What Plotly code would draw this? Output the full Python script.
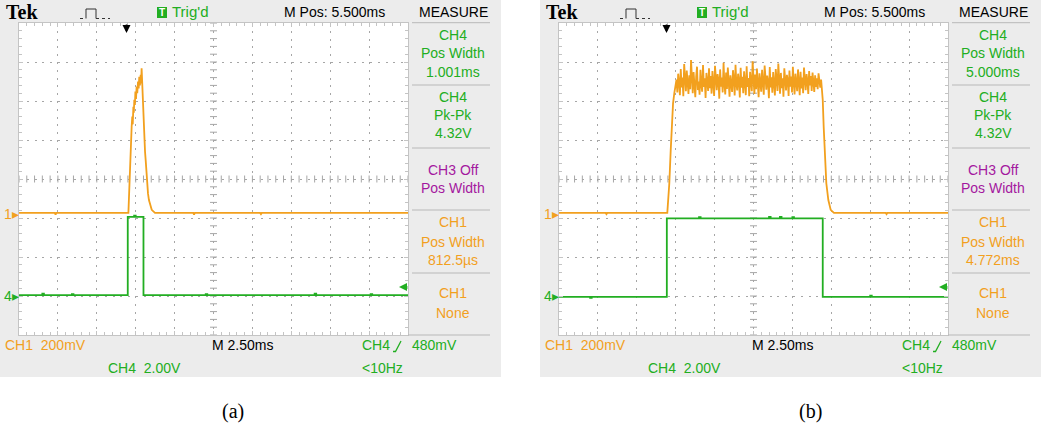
import numpy as np
import plotly.graph_objects as go

W, H = 1041, 426

# ---------------- data (time in ms, amplitude in screen divisions) ----------------
ms_per_div = 2.5
x_range = [0, 25]
y_range = [0, 8]

# panel (a): CH1 (orange) and CH4 (green)
t_ch1_a = [0, 2.3, 2.35, 2.4,
           7.03, 7.09, 7.13, 7.18, 7.21, 7.24, 7.28, 7.31, 7.35, 7.38, 7.41, 7.45, 7.48, 7.52,
           7.56, 7.60, 7.65, 7.69, 7.73, 7.77, 7.82, 7.85, 7.88, 7.91, 7.95, 7.99, 8.05, 8.10,
           8.14, 8.20, 8.29, 8.35, 8.44, 8.53, 8.74,
           11.2, 11.25, 11.3, 15.5, 15.55, 15.6, 25]
v_ch1_a = [3.13, 3.13, 3.09, 3.13,
           3.13, 3.89, 4.30, 4.74, 4.95, 5.34, 5.60, 5.40, 5.85, 5.70, 6.03, 5.90, 6.24, 6.05,
           6.37, 6.20, 6.50, 6.32, 6.62, 6.40, 6.67, 6.45, 6.84, 6.50, 6.37, 5.77, 5.17, 4.70,
           4.49, 4.06, 3.63, 3.46, 3.29, 3.21, 3.13,
           3.13, 3.09, 3.13, 3.13, 3.10, 3.13, 3.13]

t_ch4_a = [0, 1.5, 1.6, 3.4, 3.5, 6.99, 7.4, 7.5, 8.0, 12.0, 12.1, 19.0, 19.1, 22.6, 22.7, 25]
v_ch4_a = [1.02, 1.06, 1.02, 1.05, 1.02, 3.03, 3.06, 3.03, 1.02, 1.05, 1.02, 1.06, 1.02, 1.05, 1.02, 1.02]

# panel (b)
t_ch1_b_rise = [0, 3.0, 3.05, 3.1, 6.96, 7.09, 7.18, 7.24, 7.33, 7.41, 7.50]
v_ch1_b_rise = [3.13, 3.13, 3.10, 3.13, 3.13, 3.89, 4.74, 5.34, 5.94, 6.20, 6.45]
v_ch1_b_top = [
    6.55, 6.22, 6.70, 6.48, 6.15, 6.82, 6.35, 6.60, 6.12, 6.95, 6.40, 6.25, 6.78, 6.52, 6.18, 6.66, 6.30, 7.05, 6.45, 6.20,
    6.74, 6.38, 6.10, 6.62, 6.88, 6.28, 6.50, 6.16, 6.80, 6.42, 6.24, 6.92, 6.36, 6.58, 6.08, 6.72, 6.46, 6.26, 6.84, 6.33,
    6.64, 6.19, 6.77, 6.50, 6.13, 6.90, 6.40, 6.28, 6.69, 6.55, 6.06, 6.81, 6.37, 6.60, 6.22, 6.98, 6.44, 6.17, 6.73, 6.31,
    6.86, 6.48, 6.11, 6.66, 6.39, 6.23, 6.79, 6.57, 6.14, 6.93, 6.43, 6.27, 6.70, 6.51, 6.09, 6.85, 6.34, 6.62, 6.20, 6.76,
    6.47, 6.15, 6.89, 6.36, 6.59, 6.12, 6.75, 6.41, 6.25, 7.02, 6.53, 6.18, 6.68, 6.30, 6.83, 6.45, 6.10, 6.71, 6.38, 6.24,
    6.80, 6.56, 6.16, 6.91, 6.42, 6.29, 6.65, 6.49, 6.07, 6.87, 6.35, 6.61, 6.21, 6.74, 6.46, 6.14, 6.82, 6.39, 6.26, 6.96,
    6.50, 6.19, 6.72, 6.33, 6.58, 6.11, 6.84, 6.44, 6.27, 6.67, 6.54, 6.13, 6.78, 6.37, 6.63, 6.22, 6.88, 6.48, 6.17, 6.70,
    6.41, 6.25, 6.81, 6.56, 6.15, 6.75, 6.32, 6.60, 6.20, 6.86, 6.45, 6.28, 6.69, 6.52, 6.18, 6.77, 6.40, 6.64, 6.26, 6.73,
    6.48, 6.23, 6.66, 6.36, 6.58, 6.30, 6.71, 6.44, 6.34, 6.55]
sample_dt_b = 0.055
t_ch1_b_top = [7.55 + i * sample_dt_b for i in range(len(v_ch1_b_top))]
t_ch1_b_fall = [16.88, 16.95, 17.01, 17.10, 17.18, 17.31, 17.46, 17.67, 21.0, 21.05, 21.1, 25]
v_ch1_b_fall = [6.37, 6.03, 5.34, 4.57, 3.89, 3.46, 3.21, 3.13, 3.13, 3.10, 3.13, 3.13]
t_ch1_b = t_ch1_b_rise + t_ch1_b_top + t_ch1_b_fall
v_ch1_b = v_ch1_b_rise + v_ch1_b_top + v_ch1_b_fall

t_ch4_b = [0, 2.0, 2.1, 6.93, 9.0, 9.1, 13.5, 13.6, 14.2, 14.3, 15.0, 15.1, 16.95, 20.0, 20.1, 25]
v_ch4_b = [0.98, 0.95, 0.98, 2.99, 3.02, 2.99, 3.03, 2.99, 3.03, 2.99, 3.02, 2.99, 0.98, 1.01, 0.98, 0.98]

# on-screen readouts
header = {"tek": "Tek", "trig": "Trig'd", "mpos": "M Pos: 5.500ms", "measure": "MEASURE"}
measure_a = ["1.001ms", "4.32V", "812.5µs"]
measure_b = ["5.000ms", "4.32V", "4.772ms"]
bottom_labels = {"ch1": "CH1  200mV", "time": "M 2.50ms", "ch4": "CH4  2.00V", "trig": "480mV", "freq": "&lt;10Hz"}
captions = ["(a)", "(b)"]

# ---------------- styling ----------------
ORANGE = "#F2A01E"
GREEN = "#22AE22"
PURPLE = "#A4189F"
PANEL = "#ECECEC"
GRIDC = "#A6A6A6"
EDGEC = "#C4C4C4"
SEP = "#B8B8B8"
FONT = "Liberation Sans, Arial, sans-serif"


def px(x):
    return x / W


def py(y):
    return 1 - y / H


shapes, annotations = [], []


def text(x, y, s, color="black", size=14, anchor="left", family=FONT):
    annotations.append(dict(x=px(x), y=py(y), xref="paper", yref="paper", text=s, showarrow=False,
                            xanchor=anchor, yanchor="middle", font=dict(color=color, size=size, family=family)))


def rect(x0, y0, x1, y1, fill):
    shapes.append(dict(type="rect", xref="paper", yref="paper", x0=px(x0), x1=px(x1), y0=py(y1), y1=py(y0),
                       fillcolor=fill, line=dict(width=0), layer="below"))


def hline(x0, x1, y, color=SEP, width=1, dash="solid"):
    shapes.append(dict(type="line", xref="paper", yref="paper", x0=px(x0), x1=px(x1), y0=py(y), y1=py(y),
                       line=dict(color=color, width=width, dash=dash)))


def path(pts, color, width=1.2):
    d = "M" + " L".join(f"{px(a):.5f},{py(b):.5f}" for a, b in pts)
    shapes.append(dict(type="path", xref="paper", yref="paper", path=d, line=dict(color=color, width=width)))


fig = go.Figure()

panels = [
    dict(o=0, xa="x", ya="y", t1=t_ch1_a, v1=v_ch1_a, t4=t_ch4_a, v4=v_ch4_a, meas=measure_a),
    dict(o=540, xa="x2", ya="y2", t1=t_ch1_b, v1=v_ch1_b, t4=t_ch4_b, v4=v_ch4_b, meas=measure_b),
]

for p in panels:
    o = p["o"]
    rect(o, 0, o + 501, 377, PANEL)
    rect(o + 19, 23, o + 408, 335, "white")

    # graticule centre-line ticks
    xc = np.arange(0, 25.01, ms_per_div / 5)
    yc = np.arange(0, 8.01, 0.2)
    fig.add_trace(go.Scatter(x=xc, y=[4] * len(xc), xaxis=p["xa"], yaxis=p["ya"], mode="markers",
                             marker=dict(symbol="line-ns", size=5, line=dict(color=GRIDC, width=1)),
                             hoverinfo="skip"))
    fig.add_trace(go.Scatter(x=[12.5] * len(yc), y=yc, xaxis=p["xa"], yaxis=p["ya"], mode="markers",
                             marker=dict(symbol="line-ew", size=5, line=dict(color=GRIDC, width=1)),
                             hoverinfo="skip"))
    # traces
    fig.add_trace(go.Scatter(x=p["t4"], y=p["v4"], xaxis=p["xa"], yaxis=p["ya"], mode="lines",
                             line=dict(color=GREEN, width=1.8, shape="hv"), name="CH4"))
    fig.add_trace(go.Scatter(x=p["t1"], y=p["v1"], xaxis=p["xa"], yaxis=p["ya"], mode="lines",
                             line=dict(color=ORANGE, width=1.8), name="CH1"))

    # header
    text(o + 4, 12, "<b>" + header["tek"] + "</b>", size=20, family="Liberation Serif, Times New Roman, serif")
    hline(o + 80, o + 86, 18.5, color="#333", width=1, dash="dot")
    path([(o + 86, 18.5), (o + 86, 9), (o + 96, 9), (o + 96, 18.5)], "#333", 1)
    hline(o + 96, o + 110, 18.5, color="#333", width=1, dash="dot")
    rect(o + 157, 7, o + 167, 18, GREEN)
    text(o + 162, 12.5, "<b>T</b>", color="white", size=10, anchor="center")
    text(o + 170, 12, header["trig"], color=GREEN, size=15)
    text(o + 282, 12, header["mpos"])
    text(o + 453, 12, header["measure"], anchor="center")

    # measurement column
    for yy in [22.7, 85, 148, 210, 273]:
        hline(o + 412, o + 490, yy)
    hline(o + 408, o + 490, 335)
    col = [("CH4", GREEN, 35), ("Pos Width", GREEN, 53), (p["meas"][0], GREEN, 72),
           ("CH4", GREEN, 97), ("Pk-Pk", GREEN, 115), (p["meas"][1], GREEN, 133),
           ("CH3 Off", PURPLE, 170), ("Pos Width", PURPLE, 188),
           ("CH1", ORANGE, 222), ("Pos Width", ORANGE, 242), (p["meas"][2], ORANGE, 260),
           ("CH1", ORANGE, 293), ("None", ORANGE, 313)]
    for s, c, yy in col:
        text(o + 453, yy, s, color=c, anchor="center")

    # bottom readouts
    text(o + 3, 345, bottom_labels["ch1"].replace(" ", "&nbsp;"), color=ORANGE)
    text(o + 210, 345, bottom_labels["time"])
    text(o + 360, 345, "CH4", color=GREEN)
    path([(o + 393, 351.5), (o + 395.5, 351.5), (o + 401, 341)], GREEN, 1.3)
    text(o + 410, 345, bottom_labels["trig"], color=GREEN)
    text(o + 106, 368, bottom_labels["ch4"].replace(" ", "&nbsp;"), color=GREEN)
    text(o + 360, 368, bottom_labels["freq"], color=GREEN)

    # ground markers
    text(o + 2, 214, "1▸", color=ORANGE, size=14)
    text(o + 2, 296, "4▸", color=GREEN, size=14)

    # trigger position and level arrows
    annotations.append(dict(x=px(o + 126.5), y=py(33), xref="paper", yref="paper", text="",
                            showarrow=True, ax=0, ay=-10, arrowhead=2, arrowsize=1, arrowwidth=1.6,
                            arrowcolor="black"))
    annotations.append(dict(x=px(o + 399), y=py(287), xref="paper", yref="paper", text="",
                            showarrow=True, ax=10, ay=0, arrowhead=2, arrowsize=1, arrowwidth=1.6,
                            arrowcolor=GREEN))

# captions
text(233, 411, captions[0], size=20, anchor="center", family="Liberation Serif, Times New Roman, serif")
text(810, 411, captions[1], size=20, anchor="center", family="Liberation Serif, Times New Roman, serif")


def axis(rng, dtick, minor, domain, anchor, dash):
    return dict(range=rng, dtick=dtick, tick0=0, domain=domain, anchor=anchor,
                showgrid=True, gridcolor=GRIDC, gridwidth=1, griddash=dash,
                showline=True, linecolor=EDGEC, linewidth=1, mirror="allticks",
                ticks="inside", ticklen=4, tickcolor=EDGEC, showticklabels=False,
                minor=dict(dtick=minor, tick0=0, ticks="inside", ticklen=3, tickcolor=EDGEC, showgrid=False),
                zeroline=False, fixedrange=True)


ydom = [py(335), py(23)]
fig.update_layout(
    width=W, height=H, margin=dict(l=0, r=0, t=0, b=0),
    paper_bgcolor="white", plot_bgcolor="rgba(0,0,0,0)",
    showlegend=False, hovermode=False,
    xaxis=axis(x_range, ms_per_div, ms_per_div / 5, [px(19), px(408)], "y", "2px,5.8px"),
    yaxis=axis(y_range, 1, 0.2, ydom, "x", "2px,5.8px"),
    xaxis2=axis(x_range, ms_per_div, ms_per_div / 5, [px(559), px(948)], "y2", "2px,5.8px"),
    yaxis2=axis(y_range, 1, 0.2, ydom, "x2", "2px,5.8px"),
    shapes=shapes, annotations=annotations,
)

fig.write_html("out.html", config={"staticPlot": True},
               post_script="document.body.style.margin='0';document.body.style.overflow='hidden';")
